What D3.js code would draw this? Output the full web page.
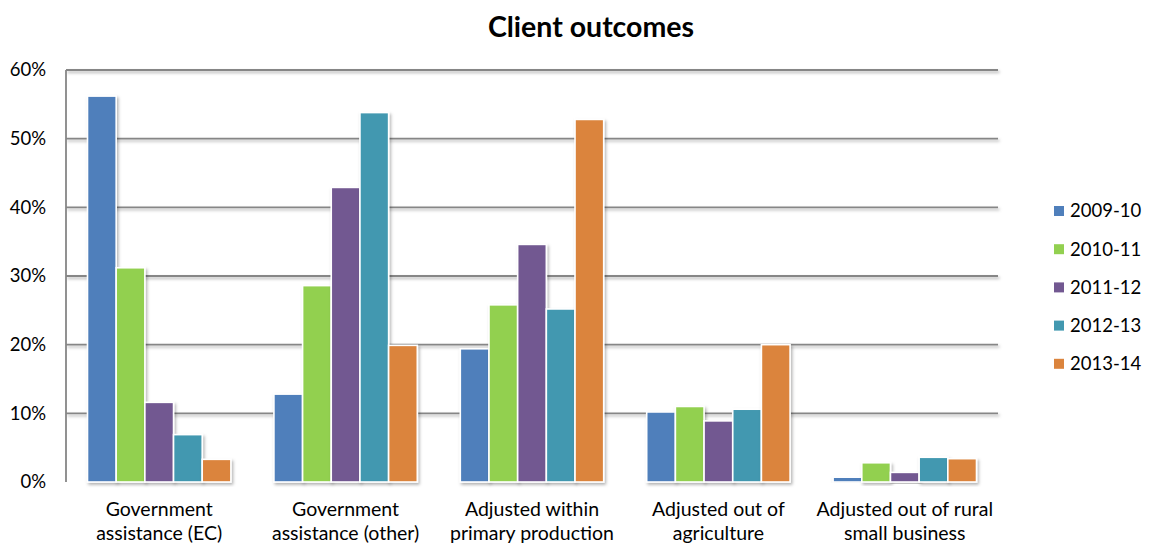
<!DOCTYPE html>
<html>
<head>
<meta charset="utf-8">
<script src="https://cdn.jsdelivr.net/npm/d3@7"></script>
<style>
  html, body { margin: 0; padding: 0; background: #fff; }
  svg { display: block; }
  text { font-family: Lato, "Open Sans", sans-serif; fill: #000; }
</style>
</head>
<body>
<svg id="chart" width="1153" height="547"></svg>
<script>
// Categories (two-line labels) and yearly series, as shares of clients
const categories = [
  ["Government", "assistance (EC)"],
  ["Government", "assistance (other)"],
  ["Adjusted within", "primary production"],
  ["Adjusted out of", "agriculture"],
  ["Adjusted out of rural", "small business"]
];
const years = ["2009-10", "2010-11", "2011-12", "2012-13", "2013-14"];
const v2009 = [0.562, 0.128, 0.194, 0.102, 0.007];
const v2010 = [0.312, 0.286, 0.258, 0.110, 0.028];
const v2011 = [0.116, 0.429, 0.346, 0.089, 0.014];
const v2012 = [0.069, 0.538, 0.252, 0.106, 0.036];
const v2013 = [0.033, 0.199, 0.528, 0.200, 0.034];
const yTicks = [0, 0.1, 0.2, 0.3, 0.4, 0.5, 0.6];
const colors = ["#4f7fbb", "#92d050", "#725891", "#4298b0", "#db843d"];

const seriesValues = [v2009, v2010, v2011, v2012, v2013];

const svg = d3.select("#chart");
const margin = { left: 66, right: 155, top: 70, bottom: 65 };
const W = 1153, H = 547;
const plotW = W - margin.left - margin.right;
const plotH = H - margin.top - margin.bottom;

// soft shadow used by bars and axis lines
const defs = svg.append("defs");
const f = defs.append("filter").attr("id", "shadow")
  .attr("x", "-30%").attr("y", "-10%").attr("width", "160%").attr("height", "130%");
f.append("feDropShadow").attr("dx", 1.5).attr("dy", 2).attr("stdDeviation", 1.8)
  .attr("flood-color", "#000").attr("flood-opacity", 0.3);

const g = svg.append("g").attr("transform", `translate(${margin.left},${margin.top})`);

const x0 = d3.scaleBand().domain(d3.range(categories.length)).range([0, plotW]).paddingInner(0).paddingOuter(0);
// 150% gap width between clusters: each bar slot = group / (5 + 1.5)
const slot = x0.bandwidth() / (years.length + 1.5);
const x1 = d3.scaleBand().domain(d3.range(years.length))
  .range([slot * 0.75, x0.bandwidth() - slot * 0.75]).padding(0);
const y = d3.scaleLinear().domain([0, 0.6]).range([plotH, 0]);

// gridlines
const grid = g.append("g").attr("filter", "url(#shadow)");
grid.selectAll("line").data(yTicks.filter(t => t > 0)).join("line")
  .attr("x1", 0).attr("x2", plotW)
  .attr("y1", d => y(d)).attr("y2", d => y(d))
  .attr("stroke", "#868686").attr("stroke-width", 1.8);

// left axis line
g.append("line").attr("x1", 0).attr("x2", 0).attr("y1", 0).attr("y2", plotH)
  .attr("stroke", "#868686").attr("stroke-width", 1.8);

// bars
const groups = g.selectAll("g.cat").data(categories).join("g").attr("class", "cat")
  .attr("transform", (d, i) => `translate(${x0(i)},0)`);
groups.selectAll("rect").data((d, i) => seriesValues.map((s, k) => ({ k, v: s[i] })))
  .join("rect")
  .attr("x", d => x1(d.k))
  .attr("width", x1.bandwidth())
  .attr("y", d => y(d.v))
  .attr("height", d => y(0) - y(d.v))
  .attr("fill", d => colors[d.k])
  .attr("stroke", "#fff").attr("stroke-width", 1.6)
  .attr("filter", "url(#shadow)");

// baseline
g.append("line").attr("x1", 0).attr("x2", plotW).attr("y1", plotH).attr("y2", plotH)
  .attr("stroke", "#868686").attr("stroke-width", 2.6).attr("filter", "url(#shadow)");

// y axis labels
const yAxis = d3.axisLeft(y).tickValues(yTicks).tickFormat(d3.format(".0%")).tickSize(0).tickPadding(20);
const ya = g.append("g").call(yAxis);
ya.select(".domain").remove();
ya.selectAll("text").style("font-size", "18.5px").style("font-family", "Lato, sans-serif").attr("fill", "#000");

// category labels
const xl = g.append("g").attr("transform", `translate(0,${plotH})`);
categories.forEach((lines, i) => {
  const cx = x0(i) + x0.bandwidth() / 2;
  const t = xl.append("text").attr("x", cx).attr("y", 34)
    .attr("text-anchor", "middle").style("font-size", "19.5px");
  lines.forEach((ln, j) => t.append("tspan").attr("x", cx)
    .attr("dy", j === 0 ? 0 : 24).text(ln));
});

// title
svg.append("text").attr("x", 591).attr("y", 37).attr("text-anchor", "middle")
  .style("font-size", "28.5px").style("font-weight", "bold").text("Client outcomes");

// legend
const lg = svg.append("g").attr("transform", "translate(1054,211)");
years.forEach((yr, k) => {
  const row = lg.append("g").attr("transform", `translate(0,${k * 38.2})`);
  row.append("rect").attr("x", 0).attr("y", -5).attr("width", 10).attr("height", 10).attr("fill", colors[k]);
  row.append("text").attr("x", 16).attr("y", 0).attr("dy", "0.35em").style("font-size", "18.5px").text(yr);
});
</script>
</body>
</html>
